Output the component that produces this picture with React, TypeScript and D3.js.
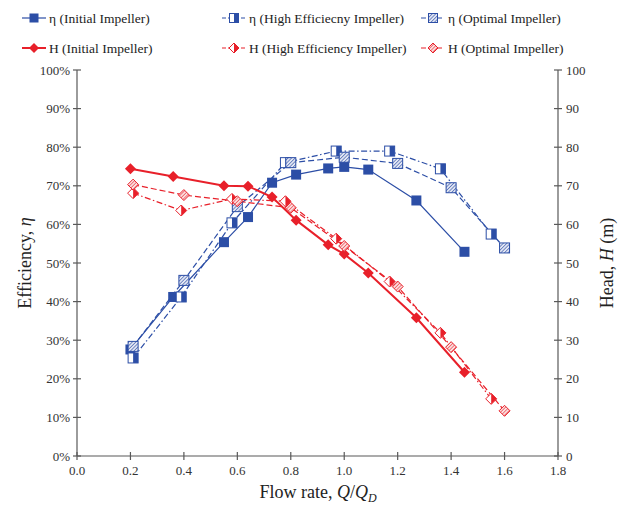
import React from "react";
import * as d3 from "d3";

const qInitial = [0.2, 0.36, 0.55, 0.64, 0.73, 0.82, 0.94, 1.0, 1.09, 1.27, 1.45];
const etaInitial = [27.6, 41.2, 55.4, 61.9, 70.8, 72.9, 74.5, 74.9, 74.2, 66.2, 52.9];
const headInitial = [74.4, 72.4, 70.0, 69.9, 67.1, 61.1, 54.7, 52.3, 47.4, 35.8, 21.7];

const qHigh = [0.21, 0.39, 0.58, 0.78, 0.97, 1.17, 1.36, 1.55];
const etaHigh = [25.4, 41.2, 60.4, 76.0, 79.0, 79.0, 74.4, 57.5];
const headHigh = [68.1, 63.6, 66.6, 66.0, 56.3, 45.2, 31.9, 14.8];

const qOpt = [0.21, 0.4, 0.6, 0.8, 1.0, 1.2, 1.4, 1.6];
const etaOpt = [28.4, 45.5, 64.6, 76.0, 77.4, 75.8, 69.5, 53.9];
const headOpt = [70.3, 67.6, 66.0, 64.3, 54.4, 43.9, 28.2, 11.7];

const xTicks = [0, 0.2, 0.4, 0.6, 0.8, 1.0, 1.2, 1.4, 1.6, 1.8];
const leftTicks = [0, 10, 20, 30, 40, 50, 60, 70, 80, 90, 100];
const rightTicks = [0, 10, 20, 30, 40, 50, 60, 70, 80, 90, 100];

const legendLabels = [
  "η (Initial Impeller)",
  "η (High Efficiecny Impeller)",
  "η (Optimal Impeller)",
  "H (Initial Impeller)",
  "H (High Efficiency Impeller)",
  "H (Optimal Impeller)",
];

const BLUE = "#2c4ea6";
const RED = "#e8202a";
const AXIS = "#595959";
const FONT = "'Liberation Serif', 'Times New Roman', serif";

type Kind = "filled" | "half" | "hatch";

function Square({ x, y, kind, s = 10 }: { x: number; y: number; kind: Kind; s?: number }) {
  const h = s / 2;
  if (kind === "filled") {
    return <rect x={x - h} y={y - h} width={s} height={s} fill={BLUE} />;
  }
  if (kind === "half") {
    return (
      <g>
        <rect x={x - h} y={y - h} width={s} height={s} fill="#fff" stroke={BLUE} strokeWidth={1} />
        <rect x={x} y={y - h} width={h} height={s} fill={BLUE} />
      </g>
    );
  }
  return <rect x={x - h} y={y - h} width={s} height={s} fill="url(#hatchBlue)" stroke={BLUE} strokeWidth={1} />;
}

function Diamond({ x, y, kind, s = 5.5 }: { x: number; y: number; kind: Kind; s?: number }) {
  const pts = `${x},${y - s} ${x + s},${y} ${x},${y + s} ${x - s},${y}`;
  if (kind === "filled") {
    return <polygon points={pts} fill={RED} />;
  }
  if (kind === "half") {
    return (
      <g>
        <polygon points={pts} fill="#fff" stroke={RED} strokeWidth={1} />
        <polygon points={`${x},${y - s} ${x + s},${y} ${x},${y + s}`} fill={RED} />
      </g>
    );
  }
  return <polygon points={pts} fill="url(#hatchRed)" stroke={RED} strokeWidth={1} />;
}

const DASH: Record<Kind, string | undefined> = {
  filled: undefined,
  half: "6,2.5,1.5,2.5",
  hatch: "6,3",
};

export default function App() {
  const W = 630;
  const H = 507;
  const x = d3.scaleLinear().domain([0, 1.8]).range([77, 558]);
  const yL = d3.scaleLinear().domain([0, 100]).range([456, 70]);
  const yR = d3.scaleLinear().domain([0, 100]).range([456, 70]);

  const line = d3
    .line<[number, number]>()
    .x((d) => d[0])
    .y((d) => d[1]);

  const etaSeries: { q: number[]; v: number[]; kind: Kind }[] = [
    { q: qInitial, v: etaInitial, kind: "filled" },
    { q: qHigh, v: etaHigh, kind: "half" },
    { q: qOpt, v: etaOpt, kind: "hatch" },
  ];
  const headSeries: { q: number[]; v: number[]; kind: Kind }[] = [
    { q: qInitial, v: headInitial, kind: "filled" },
    { q: qHigh, v: headHigh, kind: "half" },
    { q: qOpt, v: headOpt, kind: "hatch" },
  ];

  const legendX = [22, 222, 421];
  const legendY = [18, 48];

  return (
    <svg width={W} height={H} style={{ position: "absolute", left: 0, top: 0, background: "#fff" }} fontFamily={FONT}>
      <defs>
        <pattern id="hatchBlue" width="2.5" height="2.5" patternUnits="userSpaceOnUse" patternTransform="rotate(45)">
          <rect width="2.5" height="2.5" fill="#e3e7f3" />
          <line x1="0" y1="0" x2="0" y2="2.5" stroke={BLUE} strokeWidth="1.2" />
        </pattern>
        <pattern id="hatchRed" width="2.5" height="2.5" patternUnits="userSpaceOnUse" patternTransform="rotate(45)">
          <rect width="2.5" height="2.5" fill="#fbe0e0" />
          <line x1="0" y1="0" x2="0" y2="2.5" stroke={RED} strokeWidth="1.1" />
        </pattern>
      </defs>

      {/* axes */}
      <g stroke={AXIS} strokeWidth={1.2} fill="none">
        <line x1={x(0)} y1={yL(0)} x2={x(1.8)} y2={yL(0)} />
        <line x1={x(0)} y1={yL(0)} x2={x(0)} y2={yL(100)} />
        <line x1={x(1.8)} y1={yR(0)} x2={x(1.8)} y2={yR(100)} />
        {xTicks.map((t) => (
          <line key={"xt" + t} x1={x(t)} x2={x(t)} y1={yL(0) - 4} y2={yL(0) + 4} />
        ))}
        {leftTicks.map((t) => (
          <line key={"lt" + t} x1={x(0) - 4} x2={x(0) + 4} y1={yL(t)} y2={yL(t)} />
        ))}
        {rightTicks.map((t) => (
          <line key={"rt" + t} x1={x(1.8) - 4} x2={x(1.8) + 4} y1={yR(t)} y2={yR(t)} />
        ))}
      </g>
      <g fontSize={13} fill="#333">
        {xTicks.map((t) => (
          <text key={"xl" + t} x={x(t)} y={yL(0) + 19} textAnchor="middle">
            {t.toFixed(1)}
          </text>
        ))}
        {leftTicks.map((t) => (
          <text key={"ll" + t} x={x(0) - 7} y={yL(t) + 4.5} textAnchor="end">
            {t + "%"}
          </text>
        ))}
        {rightTicks.map((t) => (
          <text key={"rl" + t} x={x(1.8) + 8} y={yR(t) + 4.5} textAnchor="start">
            {t}
          </text>
        ))}
      </g>

      {/* axis titles */}
      <text x={318} y={498} textAnchor="middle" fontSize={18} fill="#222">
        Flow rate, <tspan fontStyle="italic">Q</tspan>/<tspan fontStyle="italic">Q</tspan>
        <tspan fontStyle="italic" fontSize={12} dy={4}>D</tspan>
      </text>
      <text transform={`translate(31,263) rotate(-90)`} textAnchor="middle" fontSize={18} fill="#222">
        Efficiency, <tspan fontStyle="italic">η</tspan>
      </text>
      <text transform={`translate(613,263) rotate(-90)`} textAnchor="middle" fontSize={18} fill="#222">
        Head, <tspan fontStyle="italic">H</tspan> (m)
      </text>

      {/* efficiency lines */}
      {etaSeries.map((s, i) => (
        <path
          key={"el" + i}
          d={line(s.q.map((q, j) => [x(q), yL(s.v[j])]))!}
          fill="none"
          stroke={BLUE}
          strokeWidth={1.2}
          strokeDasharray={DASH[s.kind]}
        />
      ))}
      {/* head lines */}
      {headSeries.map((s, i) => (
        <path
          key={"hl" + i}
          d={line(s.q.map((q, j) => [x(q), yR(s.v[j])]))!}
          fill="none"
          stroke={RED}
          strokeWidth={s.kind === "filled" ? 2 : 1.2}
          strokeDasharray={DASH[s.kind]}
        />
      ))}
      {etaSeries.map((s, i) => (
        <g key={"em" + i}>
          {s.q.map((q, j) => (
            <Square key={j} x={x(q)} y={yL(s.v[j])} kind={s.kind} />
          ))}
        </g>
      ))}
      {headSeries.map((s, i) => (
        <g key={"hm" + i}>
          {s.q.map((q, j) => (
            <Diamond key={j} x={x(q)} y={yR(s.v[j])} kind={s.kind} />
          ))}
        </g>
      ))}

      {/* legend */}
      {legendLabels.map((lab, i) => {
        const row = Math.floor(i / 3);
        const col = i % 3;
        const kinds: Kind[] = ["filled", "half", "hatch"];
        const kind = kinds[col];
        const lx = legendX[col];
        const ly = legendY[row];
        const color = row === 0 ? BLUE : RED;
        return (
          <g key={"lg" + i}>
            <line
              x1={lx}
              x2={lx + 24}
              y1={ly}
              y2={ly}
              stroke={color}
              strokeWidth={row === 1 && kind === "filled" ? 2 : 1.2}
              strokeDasharray={kind === "half" ? "4,2,1.5,2" : kind === "hatch" ? "5,3" : undefined}
            />
            {row === 0 ? (
              <Square x={lx + 12} y={ly} kind={kind} s={9} />
            ) : (
              <Diamond x={lx + 12} y={ly} kind={kind} s={5} />
            )}
            <text x={lx + 27} y={ly + 5} fontSize={13.5} fill="#222">
              {lab}
            </text>
          </g>
        );
      })}
    </svg>
  );
}
